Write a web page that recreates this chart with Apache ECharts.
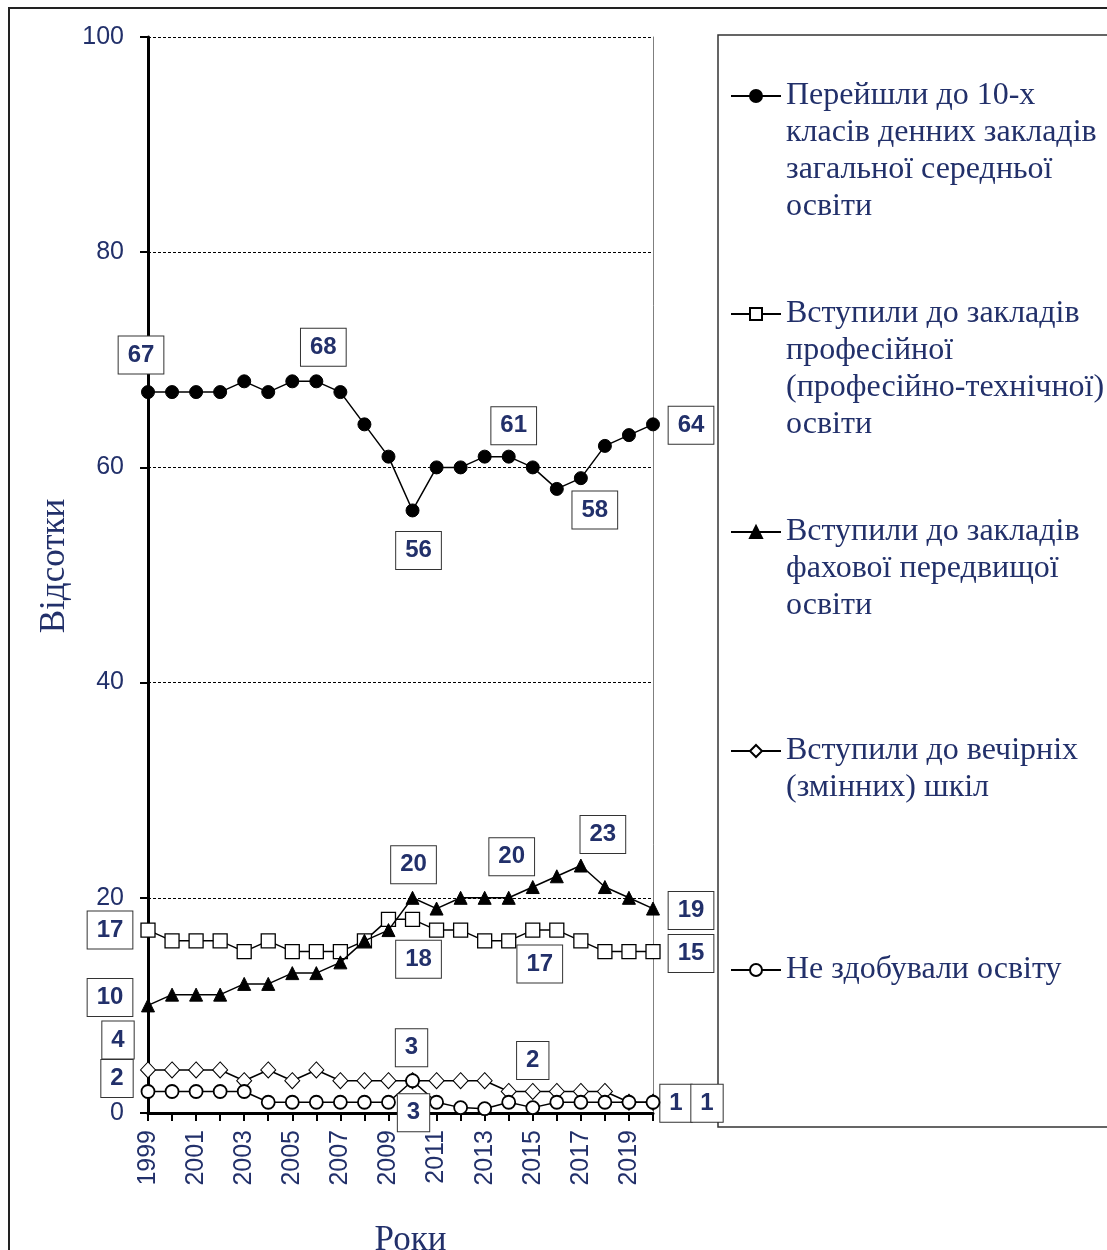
<!DOCTYPE html>
<html>
<head>
<meta charset="utf-8">
<script src="https://cdn.jsdelivr.net/npm/echarts@6/dist/echarts.min.js"></script>
<style>
  html, body { margin: 0; padding: 0; background: #fff; }
  #chart { width: 1107px; height: 1250px; }
</style>
</head>
<body>
<div id="chart"></div>
<script>
// Years on the category axis
const years = ['1999','2000','2001','2002','2003','2004','2005','2006','2007','2008','2009',
               '2010','2011','2012','2013','2014','2015','2016','2017','2018','2019','2020'];

// Shares of 9th-grade graduates, %
const tenthGrade = [67,67,67,67,68,67,68,68,67,64,61,56,60,60,61,61,60,58,59,62,63,64];
const vocational = [17,16,16,16,15,16,15,15,15,16,18,18,17,17,16,16,17,17,16,15,15,15];
const preHigher  = [10,11,11,11,12,12,13,13,14,16,17,20,19,20,20,20,21,22,23,21,20,19];
const evening    = [4,4,4,4,3,4,3,4,3,3,3,3,3,3,3,2,2,2,2,2,1,1];
const noEducation = [2,2,2,2,2,1,1,1,1,1,1,3,1,0.5,0.4,1,0.5,1,1,1,1,1];

// Legend text, one entry per line of the wrapped caption
const legendLines = [
  ['Перейшли до 10-х', 'класів денних закладів', 'загальної середньої', 'освіти'],
  ['Вступили до закладів', 'професійної', '(професійно-технічної)', 'освіти'],
  ['Вступили до закладів', 'фахової передвищої', 'освіти'],
  ['Вступили до вечірніх', '(змінних) шкіл'],
  ['Не здобували освіту']
];
const seriesNames = legendLines.map(l => l.join(' '));

// Axis captions
const yTitle = 'Відсотки';
const xTitle = 'Роки';

// Which points carry a value callout, and where the callout box sits relative to the point
const calloutOffsets = [
  {0: [-7, -37], 7: [7, -34], 11: [6, 40], 15: [5, -31], 17: [38, 21], 21: [38, 1]},
  {0: [-38, 0], 11: [6, 40], 16: [7, 34], 21: [38, 2]},
  {0: [-38, -8], 11: [1, -33], 15: [3, -41], 18: [22, -31], 21: [38, 2]},
  {0: [-30, -30], 11: [-1, -33], 16: [0, -31], 21: [23, 1]},
  {0: [-31, -13], 11: [1, 32], 21: [54, 1]}
];

const NAVY = '#22306a';
const SANS = 'Arial, "Liberation Sans", sans-serif';
const SERIF = '"Times New Roman", "Liberation Serif", serif';

function withCallouts(values, offsets) {
  return values.map((v, i) => offsets[i]
    ? { value: v, label: { show: true, offset: offsets[i] } }
    : v);
}

const calloutLabel = {
  show: false,
  position: 'inside',
  formatter: p => String(Math.round(p.value)),
  fontFamily: SANS,
  fontWeight: 'bold',
  fontSize: 24,
  color: NAVY,
  backgroundColor: '#fff',
  borderColor: '#333',
  borderWidth: 1,
  padding: [7, 9, 6, 9]
};

const seriesStyles = [
  { symbol: 'circle',   symbolSize: 13, itemStyle: { color: '#000', borderColor: '#000', borderWidth: 1 } },
  { symbol: 'rect',     symbolSize: 14, itemStyle: { color: '#fff', borderColor: '#000', borderWidth: 1.3 } },
  { symbol: 'triangle', symbolSize: 13, itemStyle: { color: '#000', borderColor: '#000', borderWidth: 1 } },
  { symbol: 'diamond',  symbolSize: [15, 16], itemStyle: { color: '#fff', borderColor: '#000', borderWidth: 1 } },
  { symbol: 'circle',   symbolSize: 13, itemStyle: { color: '#fff', borderColor: '#000', borderWidth: 1.8 } }
];

const seriesValues = [tenthGrade, vocational, preHigher, evening, noEducation];

const series = seriesValues.map((vals, k) => Object.assign({
  type: 'line',
  name: seriesNames[k],
  data: withCallouts(vals, calloutOffsets[k]),
  showAllSymbol: true,
  lineStyle: { color: '#000', width: 1.5 },
  label: calloutLabel,
  clip: false,
  silent: true,
  emphasis: { disabled: true },
  z: 2 + k
}, seriesStyles[k]));

// Legend: one block per series, icon aligned with the first caption line
const legendCenters = [94, 312, 530, 749, 968];
const LEGEND_LINE = 37;
const legend = legendLines.map((lines, i) => ({
  orient: 'vertical',
  left: 730,
  top: legendCenters[i] - 14,
  padding: 0,
  itemWidth: 50,
  itemHeight: 15,
  selectedMode: false,
  data: [seriesNames[i]],
  formatter: () => lines.map(l => '{t|' + l + '}').join('\n'),
  textStyle: {
    padding: [(lines.length - 1) * LEGEND_LINE, 0, 0, 0],
    rich: { t: { fontFamily: SERIF, fontSize: 32, lineHeight: LEGEND_LINE, color: NAVY } }
  }
}));

const chart = echarts.init(document.getElementById('chart'), null, { renderer: 'canvas' });
chart.setOption({
  animation: false,
  backgroundColor: '#fff',
  grid: { left: 148, width: 505, top: 37, height: 1076, containLabel: false, outerBoundsMode: 'none' },
  xAxis: {
    type: 'category',
    data: years,
    boundaryGap: false,
    name: xTitle,
    nameLocation: 'middle',
    nameGap: 110,
    nameTextStyle: { fontFamily: SERIF, fontSize: 35, color: NAVY, padding: [0, 0, 0, 20] },
    axisLine: { onZero: false, lineStyle: { color: '#000', width: 3 } },
    axisTick: { show: true, interval: 0, length: 8, lineStyle: { color: '#000', width: 2 } },
    axisLabel: { interval: 1, rotate: 90, margin: 17, fontFamily: SANS, fontSize: 25, color: NAVY },
    splitLine: { show: false }
  },
  yAxis: [{
    type: 'value',
    min: 0, max: 100, interval: 20,
    name: yTitle,
    nameLocation: 'middle',
    nameGap: 76,
    nameTextStyle: { fontFamily: SERIF, fontSize: 35, color: NAVY, padding: [0, 0, 0, 18] },
    axisLine: { show: true, lineStyle: { color: '#000', width: 3 } },
    axisTick: { show: true, length: 8, lineStyle: { color: '#000', width: 2 } },
    axisLabel: { margin: 24, fontFamily: SANS, fontSize: 25, color: NAVY },
    splitLine: { show: true, lineStyle: { color: '#000', width: 1, type: [3, 2] } }
  }, {
    type: 'value',
    position: 'right',
    min: 0, max: 100, interval: 20,
    axisLine: { show: true, lineStyle: { color: '#7f7f7f', width: 1 } },
    axisTick: { show: false },
    axisLabel: { show: false },
    splitLine: { show: false }
  }],
  legend: legend,
  graphic: [
    { type: 'rect', shape: { x: 9, y: 8, width: 1200, height: 1300 },
      style: { fill: 'none', stroke: '#222', lineWidth: 2 }, silent: true, z: -10 },
    { type: 'rect', shape: { x: 718, y: 35, width: 500, height: 1092 },
      style: { fill: 'none', stroke: '#333', lineWidth: 1.5 }, silent: true, z: -10 }
  ],
  series: series
});
</script>
</body>
</html>
